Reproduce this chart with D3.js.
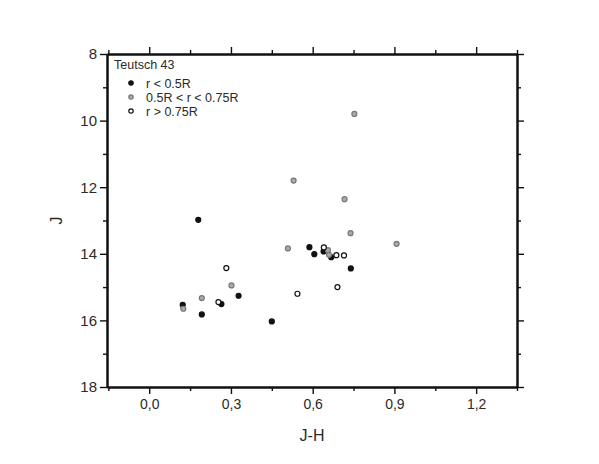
<!DOCTYPE html>
<html>
<head>
<meta charset="utf-8">
<script src="https://cdn.jsdelivr.net/npm/d3@7"></script>
<style>
  body { margin: 0; background: #fff; }
  text { font-family: Arial, "Liberation Sans", sans-serif; fill: #2a2a2a; }
  .axis path, .axis line { stroke: #111; stroke-width: 1.4; }
  .axis path { stroke-width: 2; }
</style>
</head>
<body>
<div id="vis-container"></div>
<script>
// J-H colour and J magnitude, one pair of arrays per radius group
let innerJH  = [0.18, 0.588, 0.606, 0.64, 0.668, 0.74, 0.328, 0.123, 0.265, 0.193, 0.45];
let innerJ   = [12.98, 13.80, 14.01, 13.93, 14.10, 14.44, 15.26, 15.53, 15.51, 15.82, 16.03];

let middleJH = [0.753, 0.53, 0.717, 0.739, 0.908, 0.509, 0.656, 0.66, 0.302, 0.193, 0.125];
let middleJ  = [9.80, 11.80, 12.36, 13.38, 13.70, 13.84, 13.89, 14.03, 14.95, 15.33, 15.65];

let outerJH  = [0.641, 0.687, 0.715, 0.283, 0.544, 0.691, 0.254];
let outerJ   = [13.81, 14.04, 14.05, 14.43, 15.20, 15.00, 15.45];

let xTicks = [0, 0.3, 0.6, 0.9, 1.2];
let xMinor = [-0.15, 0.15, 0.45, 0.75, 1.05, 1.35];
let yTicks = [8, 10, 12, 14, 16, 18];
let yMinor = [9, 11, 13, 15, 17];

let clusterName = "Teutsch 43";
let groupLabels = ["r < 0.5R", "0.5R < r < 0.75R", "r > 0.75R"];

let groups = [
  {label: groupLabels[0], fill: "#111", stroke: "#111", xs: innerJH, ys: innerJ},
  {label: groupLabels[1], fill: "#aaa", stroke: "#777", xs: middleJH, ys: middleJ},
  {label: groupLabels[2], fill: "#fff", stroke: "#111", xs: outerJH, ys: outerJ}
];

let W = 599, H = 464;
let plotL = 107, plotR = 517, plotT = 54, plotB = 387;

let svg = d3.select("#vis-container")
  .append("svg")
  .attr("width", W)
  .attr("height", H);

svg.append("rect").attr("width", W).attr("height", H).attr("fill", "#fff");

let x = d3.scaleLinear().domain([-0.155, 1.35]).range([plotL, plotR]);
let y = d3.scaleLinear().domain([8, 18]).range([plotT, plotB]);

let comma = d => d3.format(".1f")(d).replace(".", ",");

// bottom
svg.append("g").attr("class", "axis")
  .attr("transform", `translate(0,${plotB})`)
  .call(d3.axisBottom(x).tickValues(xTicks).tickSize(7).tickSizeOuter(0).tickFormat(comma))
  .selectAll("text").attr("font-size", "14px").attr("dy", "0.85em");
svg.append("g").attr("class", "axis")
  .attr("transform", `translate(0,${plotB})`)
  .call(d3.axisBottom(x).tickValues(xMinor).tickSize(4).tickSizeOuter(0).tickFormat(""));

// top
svg.append("g").attr("class", "axis")
  .attr("transform", `translate(0,${plotT})`)
  .call(d3.axisTop(x).tickValues(xTicks).tickSize(7).tickSizeOuter(0).tickFormat(""));
svg.append("g").attr("class", "axis")
  .attr("transform", `translate(0,${plotT})`)
  .call(d3.axisTop(x).tickValues(xMinor).tickSize(4).tickSizeOuter(0).tickFormat(""));

// left
svg.append("g").attr("class", "axis")
  .attr("transform", `translate(${plotL},0)`)
  .call(d3.axisLeft(y).tickValues(yTicks).tickSize(7).tickSizeOuter(0))
  .selectAll("text").attr("font-size", "15px").attr("x", -10);
svg.append("g").attr("class", "axis")
  .attr("transform", `translate(${plotL},0)`)
  .call(d3.axisLeft(y).tickValues(yMinor).tickSize(4).tickSizeOuter(0).tickFormat(""));

// right
svg.append("g").attr("class", "axis")
  .attr("transform", `translate(${plotR},0)`)
  .call(d3.axisRight(y).tickValues(yTicks).tickSize(7).tickSizeOuter(0).tickFormat(""));
svg.append("g").attr("class", "axis")
  .attr("transform", `translate(${plotR},0)`)
  .call(d3.axisRight(y).tickValues(yMinor).tickSize(4).tickSizeOuter(0).tickFormat(""));

// axis titles
svg.append("text")
  .attr("x", (plotL + plotR) / 2)
  .attr("y", 441)
  .attr("text-anchor", "middle")
  .attr("font-size", "16px")
  .text("J-H");

svg.append("text")
  .attr("transform", `translate(62,${(plotT + plotB) / 2}) rotate(-90)`)
  .attr("text-anchor", "middle")
  .attr("font-size", "16px")
  .text("J");

// points
groups.forEach(gr => {
  svg.append("g").selectAll("circle")
    .data(gr.xs.map((v, i) => ({jh: v, j: gr.ys[i]})))
    .enter()
    .append("circle")
    .attr("cx", d => x(d.jh))
    .attr("cy", d => y(d.j))
    .attr("r", 2.5)
    .attr("fill", gr.fill)
    .attr("stroke", gr.stroke)
    .attr("stroke-width", 1.2);
});

// legend
let leg = svg.append("g");
leg.append("text")
  .attr("x", 114).attr("y", 69)
  .attr("font-size", "12.5px")
  .text(clusterName);

groups.forEach((gr, i) => {
  let yy = 83 + i * 14;
  leg.append("circle")
    .attr("cx", 131).attr("cy", yy).attr("r", 2.2)
    .attr("fill", gr.fill).attr("stroke", gr.stroke).attr("stroke-width", 1.2);
  leg.append("text")
    .attr("x", 146).attr("y", yy + 4.5)
    .attr("font-size", "12.5px")
    .text(gr.label);
});
</script>
</body>
</html>
